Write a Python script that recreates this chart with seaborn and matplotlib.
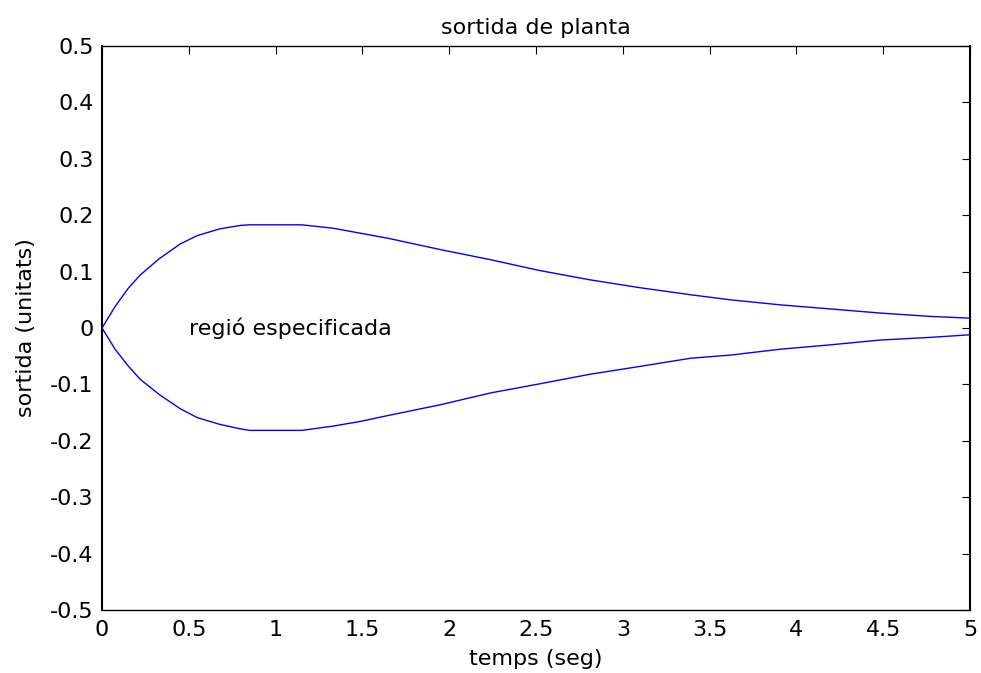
import numpy as np
import pandas as pd
import matplotlib
matplotlib.use("Agg")
import matplotlib.pyplot as plt
from matplotlib.ticker import FuncFormatter
import seaborn as sns

# Time samples (s) and the two bounds of the specified output region
temps = [0.0, 0.075, 0.15, 0.22, 0.33, 0.45, 0.55, 0.68, 0.80, 0.85, 1.15,
         1.33, 1.49, 1.65, 1.95, 2.24, 2.52, 2.81, 3.10, 3.39, 3.62, 3.91,
         4.19, 4.48, 4.77, 5.0]
limit_sup = [0.0, 0.038, 0.070, 0.094, 0.123, 0.149, 0.164, 0.176, 0.182,
             0.183, 0.183, 0.177, 0.168, 0.159, 0.139, 0.121, 0.102, 0.0855,
             0.0714, 0.059, 0.050, 0.041, 0.034, 0.0266, 0.0206, 0.0175]
limit_inf = [0.0, -0.0375, -0.067, -0.091, -0.118, -0.143, -0.159, -0.171,
             -0.179, -0.1815, -0.1815, -0.174, -0.1655, -0.155, -0.136,
             -0.115, -0.099, -0.082, -0.068, -0.0536, -0.048, -0.0375,
             -0.030, -0.0214, -0.0166, -0.012]

x_ticks = [0, 0.5, 1, 1.5, 2, 2.5, 3, 3.5, 4, 4.5, 5]
y_ticks = [-0.5, -0.4, -0.3, -0.2, -0.1, 0, 0.1, 0.2, 0.3, 0.4, 0.5]

df = pd.DataFrame({
    "temps": temps * 2,
    "sortida": limit_sup + limit_inf,
    "limit": ["sup"] * len(temps) + ["inf"] * len(temps),
})

sns.set_style("white")
plt.rcParams["font.family"] = ["DejaVu Sans"]
plt.rcParams["axes.unicode_minus"] = False

FS = 16

fig = plt.figure(figsize=(9.81, 6.73), dpi=100)
ax = fig.add_axes([0.104, 0.0936, 0.8848, 0.838])

sns.lineplot(data=df, x="temps", y="sortida", hue="limit",
             palette={"sup": "#0000ff", "inf": "#0000ff"},
             linewidth=1.0, legend=False, ax=ax)

ax.set_xlim(0, 5)
ax.set_ylim(-0.5, 0.5)
ax.set_xticks(x_ticks)
ax.set_yticks(y_ticks)
fmt = FuncFormatter(lambda v, p: "%g" % round(v, 2))
ax.xaxis.set_major_formatter(fmt)
ax.yaxis.set_major_formatter(fmt)
ax.tick_params(direction="in", length=5.5, width=0.8, top=True, right=True,
               labelsize=FS, colors="black")
ax.tick_params(axis="x", pad=7)
ax.tick_params(axis="y", pad=6)

for name, s in ax.spines.items():
    s.set_visible(True)
    s.set_color("black")
    s.set_linewidth(1.5 if name in ("left", "right") else 1.0)

ax.set_title("sortida de planta", fontsize=FS, pad=9, color="black")
ax.set_xlabel("temps (seg)", fontsize=FS, labelpad=7, color="black")
ax.set_ylabel("sortida (unitats)", fontsize=FS, labelpad=10, color="black")
ax.text(0.5, 0.0, "regió especificada", fontsize=FS, ha="left", va="center",
        color="black")

fig.savefig("out.png", dpi=100, facecolor="white")
